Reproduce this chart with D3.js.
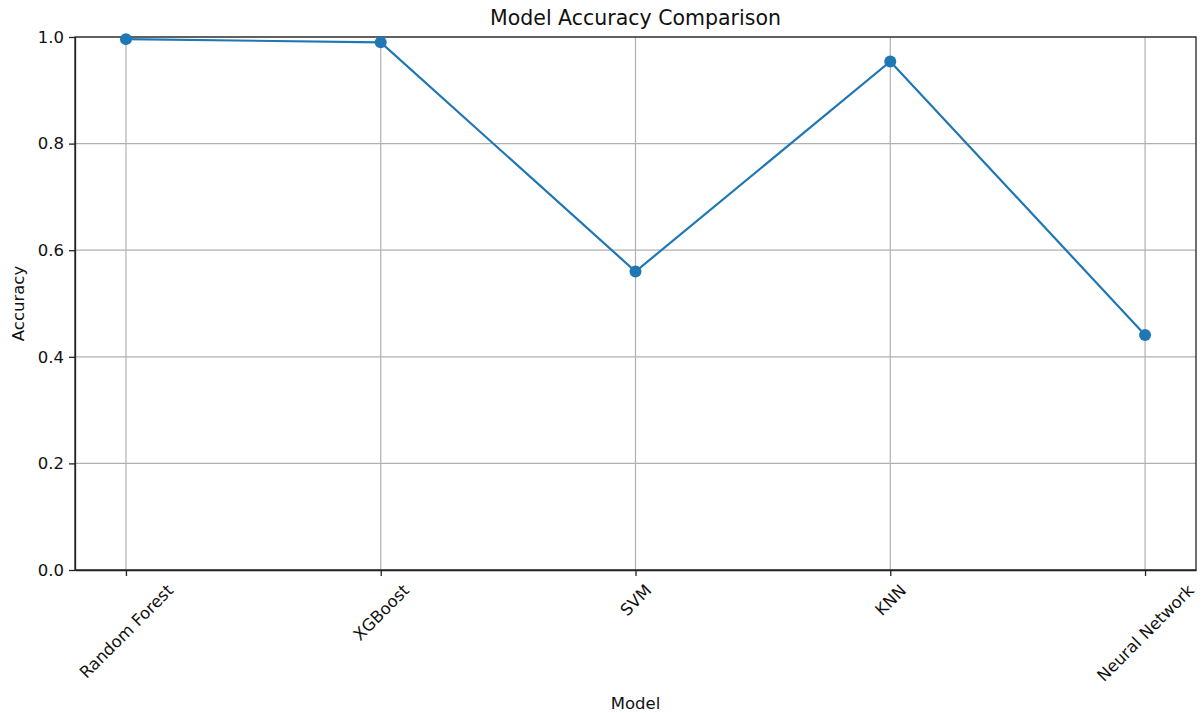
<!DOCTYPE html>
<meta charset="utf-8">
<script src="https://d3js.org/d3.v7.min.js"></script>
<style>
body { margin: 0; background: #fff; }
text { font-family: "DejaVu Sans", sans-serif; fill: #111; }
.grid line { stroke: #b0b0b0; stroke-width: 1.2px; }
.axis path, .axis line { stroke: #222; stroke-width: 1.3px; }
.axis text { font-size: 16.5px; }
.accLine { fill: none; stroke: #1f77b4; stroke-width: 2.2px; }
</style>
<body></body>
<script>
// chart data
var models = ["Random Forest", "XGBoost", "SVM", "KNN", "Neural Network"];
var accuracy = [0.996, 0.990, 0.560, 0.954, 0.441];
var yTicks = [0.0, 0.2, 0.4, 0.6, 0.8, 1.0];

var W = 1202, H = 713;
var margin = {top: 37, right: 6, bottom: 143, left: 75};
var width = W - margin.left - margin.right,
    height = H - margin.top - margin.bottom;

var svg = d3.select("body").append("svg")
    .attr("width", W)
    .attr("height", H);

var g = svg.append("g")
    .attr("transform", "translate(" + margin.left + "," + margin.top + ")");

// x like matplotlib: index positions with 5% padding
var xScale = d3.scaleLinear()
  .domain([-0.2, models.length - 1 + 0.2])
  .range([0, width]);

var yScale = d3.scaleLinear()
  .domain([0, 1])
  .range([height, 0]);

// grid lines
var grid = g.append("g").attr("class", "grid");
grid.selectAll(".vg")
  .data(models).enter().append("line")
  .attr("x1", function(d, i) { return xScale(i); })
  .attr("x2", function(d, i) { return xScale(i); })
  .attr("y1", 0).attr("y2", height);
grid.selectAll(".hg")
  .data(yTicks).enter().append("line")
  .attr("x1", 0).attr("x2", width)
  .attr("y1", function(d) { return yScale(d); })
  .attr("y2", function(d) { return yScale(d); });

// y axis
var yAxis = d3.axisLeft(yScale)
  .tickValues(yTicks)
  .tickFormat(d3.format(".1f"))
  .tickSize(6)
  .tickSizeOuter(0)
  .tickPadding(5);
g.append("g").attr("class", "y axis").call(yAxis);

// x axis
var xAxis = d3.axisBottom(xScale)
  .tickValues(d3.range(models.length))
  .tickFormat(function(i) { return models[i]; })
  .tickSize(6)
  .tickSizeOuter(0);
var xAxisGroup = g.append("g")
  .attr("class", "x axis")
  .attr("transform", "translate(0," + height + ")")
  .call(xAxis);

// rotate labels 45deg, centred on the tick (ha = center)
xAxisGroup.selectAll(".tick text")
  .attr("y", 0).attr("dy", null)
  .attr("text-anchor", "middle")
  .attr("dominant-baseline", "central")
  .attr("transform", function() {
    var w = this.getComputedTextLength(), h = 16;
    var half = (w + h) / (2 * Math.SQRT2);
    return "translate(0," + (12 + half) + ") rotate(-45)";
  });

// frame on top/right
g.append("rect")
  .attr("width", width).attr("height", height)
  .attr("fill", "none").attr("stroke", "#222").attr("stroke-width", 1.3);

// line + markers
var line = d3.line()
  .x(function(d, i) { return xScale(i); })
  .y(function(d) { return yScale(d); });

g.append("path")
  .attr("class", "accLine")
  .attr("d", line(accuracy));

g.selectAll(".pt")
  .data(accuracy).enter().append("circle")
  .attr("cx", function(d, i) { return xScale(i); })
  .attr("cy", function(d) { return yScale(d); })
  .attr("r", 6)
  .attr("fill", "#1f77b4");

// titles
svg.append("text")
  .attr("x", margin.left + width / 2).attr("y", 25)
  .attr("text-anchor", "middle")
  .style("font-size", "20.5px")
  .text("Model Accuracy Comparison");

svg.append("text")
  .attr("x", margin.left + width / 2).attr("y", 709)
  .attr("text-anchor", "middle")
  .style("font-size", "16.5px")
  .text("Model");

svg.append("text")
  .attr("transform", "translate(24," + (margin.top + height / 2) + ") rotate(-90)")
  .attr("text-anchor", "middle")
  .style("font-size", "16.5px")
  .text("Accuracy");
</script>
